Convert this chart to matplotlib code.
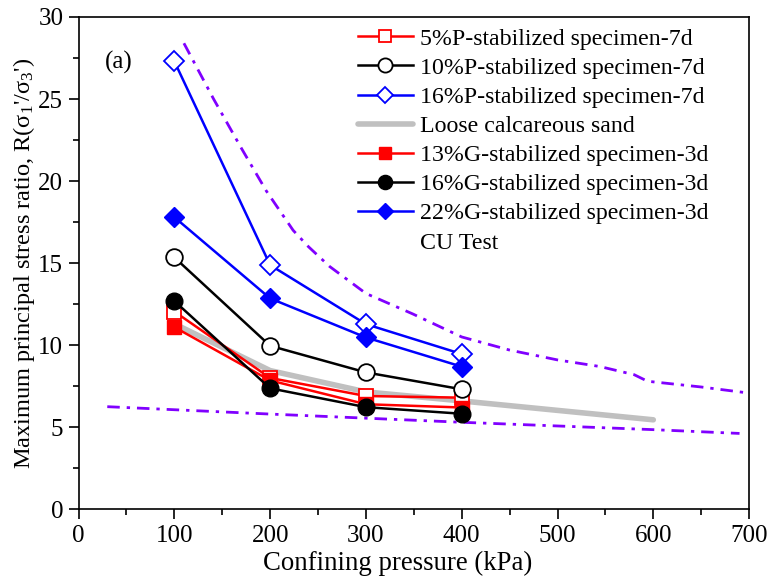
import numpy as np
import matplotlib
matplotlib.use('Agg')
import matplotlib.pyplot as plt
from matplotlib.ticker import MultipleLocator

plt.rcParams['font.family'] = ['Liberation Serif', 'DejaVu Serif']
plt.rcParams['mathtext.fontset'] = 'custom'
plt.rcParams['mathtext.rm'] = 'Liberation Serif'
plt.rcParams['mathtext.it'] = 'Liberation Serif:italic'

# confining pressure (kPa)
pressure = [100, 200, 300, 400]
p5_7d = [12.05, 8.0, 6.9, 6.8]
p10_7d = [15.35, 9.96, 8.34, 7.31]
p16_7d = [27.3, 14.88, 11.28, 9.46]
g13_3d = [11.1, 7.85, 6.4, 6.2]
g16_3d = [12.69, 7.37, 6.22, 5.82]
g22_3d = [17.8, 12.85, 10.47, 8.69]

sand_x = [100, 200, 300, 400, 600]
sand_y = [11.3, 8.45, 7.15, 6.6, 5.45]

# CU test bounds
cu_up_x = [110, 141, 170, 196, 224, 240, 262, 300, 349, 400, 450, 500, 544, 580, 594, 650, 697]
cu_up_y = [28.4, 25.0, 22.0, 19.4, 17.0, 16.0, 14.8, 13.15, 11.9, 10.5, 9.7, 9.1, 8.7, 8.2, 7.8, 7.45, 7.1]
cu_lo_x = [30, 200, 400, 600, 690]
cu_lo_y = [6.25, 5.8, 5.3, 4.85, 4.62]

fig = plt.figure(figsize=(7.73, 5.86), dpi=100)
ax = fig.add_axes([0.1016, 0.131, 0.8675, 0.840])

fs = 18
mk = 11
dash = (0, (4.5, 2.5, 1.2, 2.5))
purple = '#8000ff'

l1, = ax.plot(pressure, p5_7d, color='red', lw=1.8, marker='s', ms=mk - 1, mfc='white', mec='red', mew=1.3, zorder=3)
l2, = ax.plot(pressure, p10_7d, color='black', lw=1.8, marker='o', ms=mk + 1, mfc='white', mec='black', mew=1.3, zorder=3)
l3, = ax.plot(pressure, p16_7d, color='blue', lw=1.8, marker='D', ms=mk - 1, mfc='white', mec='blue', mew=1.3, zorder=3)
l4, = ax.plot(sand_x, sand_y, color='#c0c0c0', lw=4, solid_capstyle='round', zorder=2)
l5, = ax.plot(pressure, g13_3d, color='red', lw=1.8, marker='s', ms=mk - 1, mfc='red', mec='red', zorder=4)
l6, = ax.plot(pressure, g16_3d, color='black', lw=1.8, marker='o', ms=mk + 1, mfc='black', mec='black', zorder=5)
l7, = ax.plot(pressure, g22_3d, color='blue', lw=1.8, marker='D', ms=mk - 1, mfc='blue', mec='blue', zorder=4)
l8, = ax.plot(cu_up_x, cu_up_y, color=purple, lw=2, linestyle=dash, zorder=2)
ax.plot(cu_lo_x, cu_lo_y, color=purple, lw=2, linestyle=dash, zorder=2)

blank, = ax.plot([], [], color='none')

ax.set_xlim(0, 700)
ax.set_ylim(0, 30)
ax.xaxis.set_major_locator(MultipleLocator(100))
ax.xaxis.set_minor_locator(MultipleLocator(50))
ax.yaxis.set_major_locator(MultipleLocator(5))
ax.yaxis.set_minor_locator(MultipleLocator(2.5))
ax.tick_params(which='major', direction='out', length=7, width=1.2, labelsize=fs, pad=4)
ax.tick_params(which='minor', direction='out', length=4, width=1.2)
for s in ax.spines.values():
    s.set_linewidth(1.2)

ax.set_xlabel('Confining pressure (kPa)', fontsize=19.3)
ax.xaxis.set_label_coords(0.476, -0.084)
ax.set_ylabel(r"Maximum principal stress ratio, R(σ$_1$'/σ$_3$')", fontsize=17.6, labelpad=1)

ax.text(28, 27.2, '(a)', fontsize=fs, va='center', ha='left')

leg = ax.legend([l1, l2, l3, l4, l5, l6, l7, blank],
                ['5%P-stabilized specimen-7d', '10%P-stabilized specimen-7d',
                 '16%P-stabilized specimen-7d', 'Loose calcareous sand',
                 '13%G-stabilized specimen-3d', '16%G-stabilized specimen-3d',
                 '22%G-stabilized specimen-3d', 'CU Test'],
                loc='upper left', bbox_to_anchor=(358 / 773, 1 - 28 / 586),
                bbox_transform=fig.transFigure, frameon=False, fontsize=17.2,
                handlelength=2.3, handletextpad=0.3, labelspacing=0.31,
                borderpad=0, borderaxespad=0, markerscale=0.85)

fig.savefig('out.png', dpi=100)
